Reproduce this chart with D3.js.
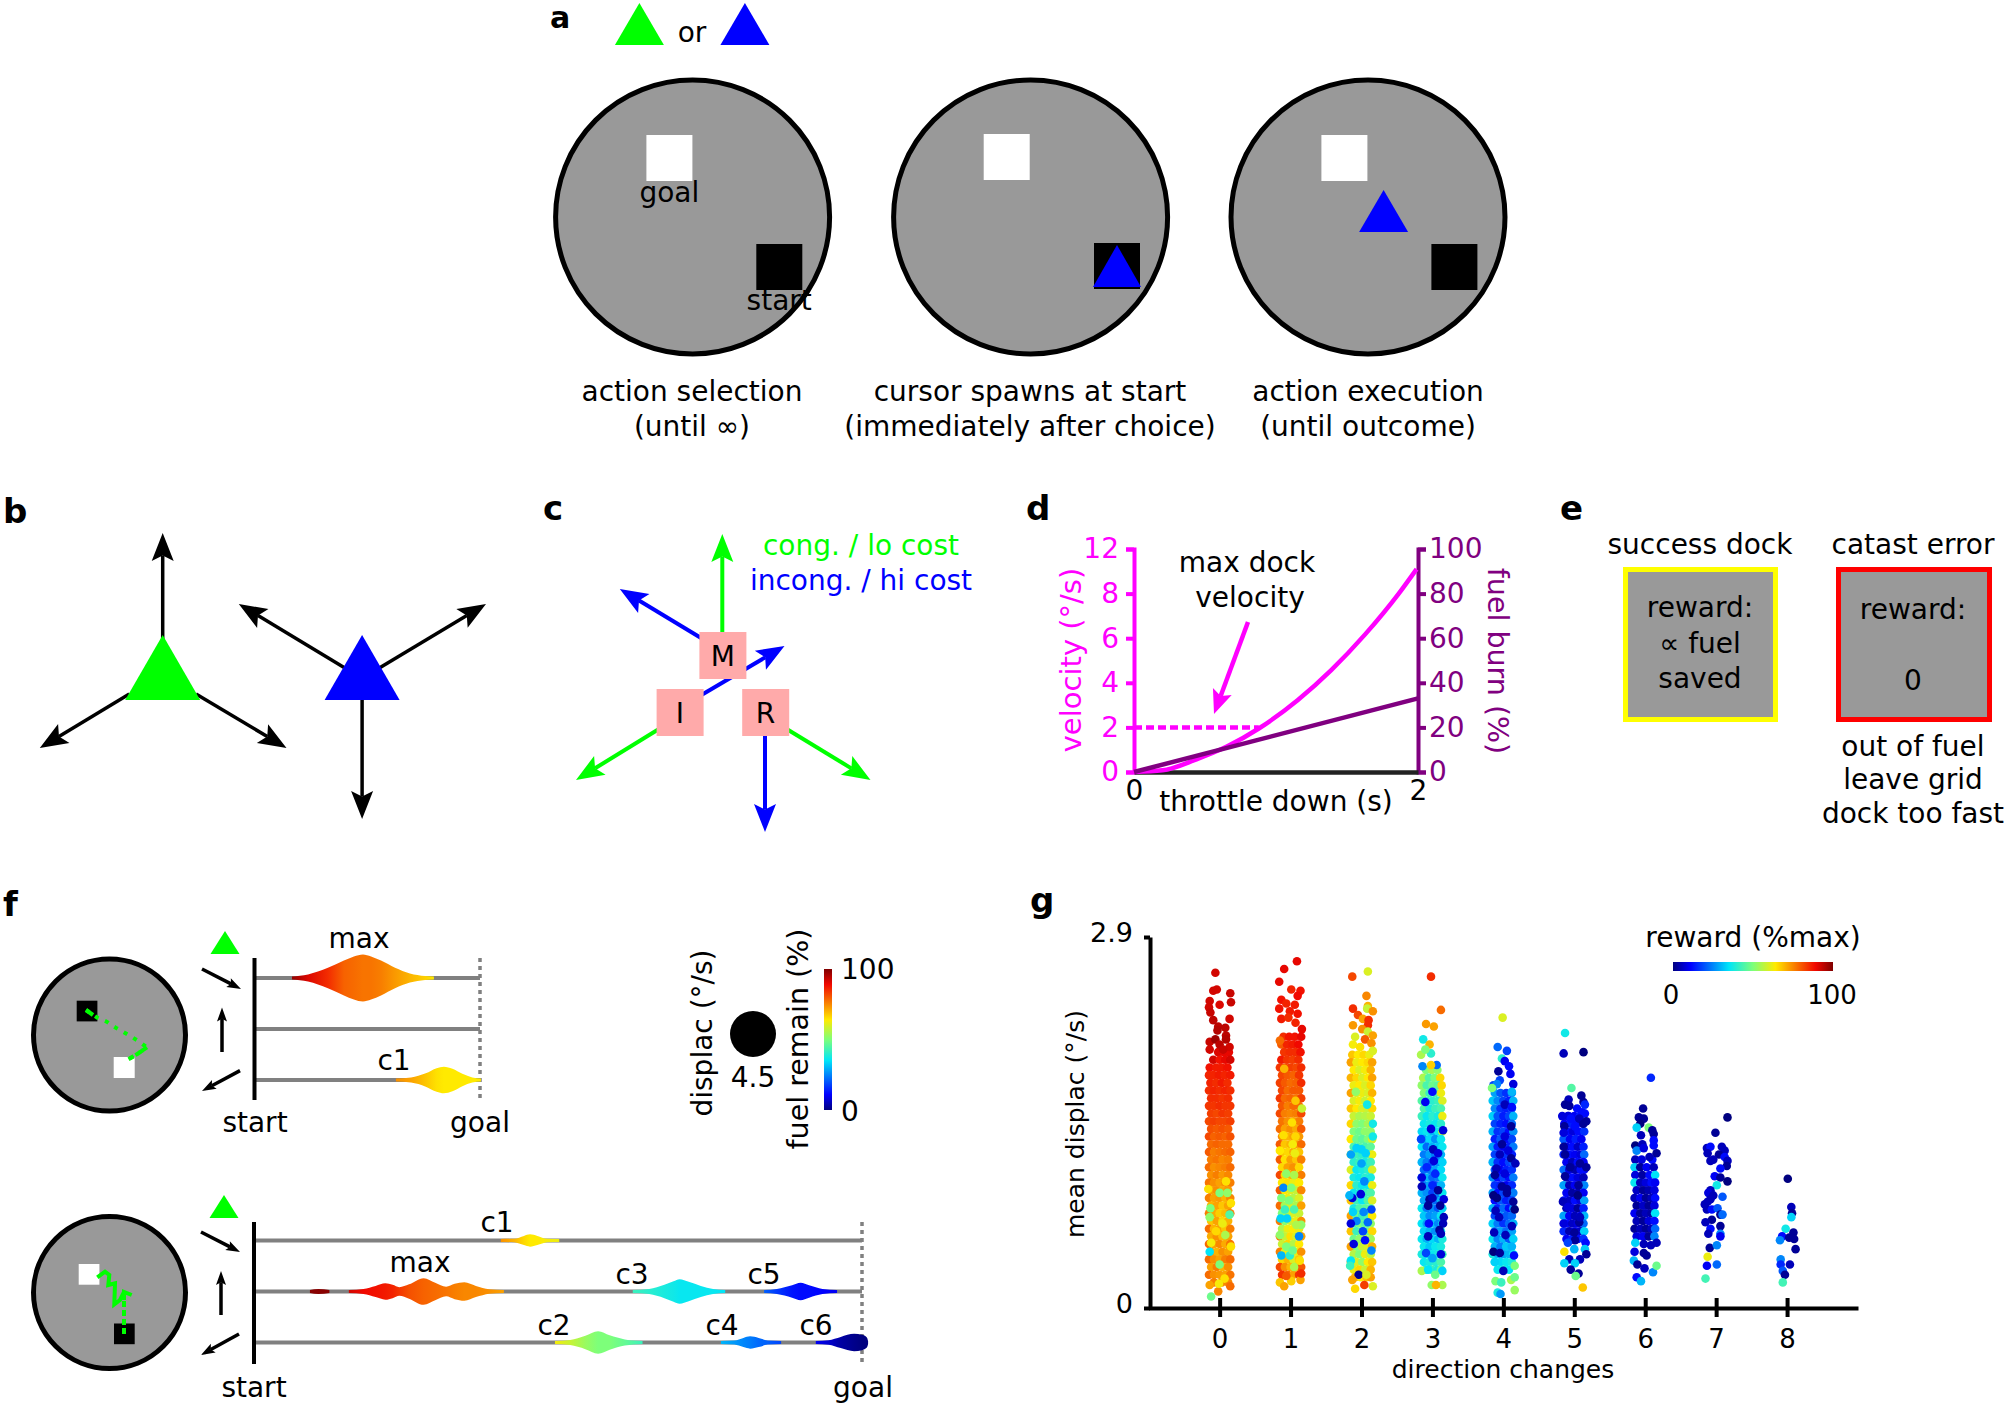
<!DOCTYPE html>
<html><head><meta charset="utf-8">
<script src="https://cdn.jsdelivr.net/npm/d3@7"></script>
<style>html,body{margin:0;padding:0;background:#fff}svg{display:block}</style>
</head><body><div id="c"></div>
<script>
// ---------- panel d values
const throttleT=[0,0.2,0.44,0.654,0.879,1.152,1.389,1.626,1.863,1.99];
const velocityCurve=[0,0.75,5.7,11.4,19.5,32.2,45.7,61.6,79.9,91];
const burnT=[0,2];
const burnLine=[0,33];
const velocityLabels=["0","2","4","6","8","12"];
const burnTicks=[0,20,40,60,80,100];
// ---------- panel f violins: [progress along track, displacement half-width, fuel remaining]
const topMax=[[16.8,.3,98],[23.9,.7,91],[32.7,2,85],[39.8,3.4,79],[44.2,4.2,78],[48.2,4.6,77],[51.8,4.2,77],[56.2,3.4,76],[62.4,2,73],[69,.9,70],[75.7,.4,67],[79.6,.2,64]];
const topC1=[[62.8,.2,74],[69.5,.5,72],[76,1.3,68],[80.8,2.3,65],[84,2.6,64],[87.8,2.2,64],[92.2,1.2,64],[96.6,.5,64],[100.4,.15,64]];
const lowC1=[[40.6,.15,74],[42.8,.35,70],[44.4,.9,66],[45.4,1.2,64],[46.6,.9,64],[48.2,.35,63],[50.2,.15,62]];
const lowTiny=[[9.2,.15,99],[10.6,.5,99],[12.4,.15,99]];
const lowMax=[[15.6,.15,92],[18,.5,89],[20,1.1,88],[21.6,1.6,87],[22.8,1.3,86],[23.9,.85,84],[25.5,1.4,81],[27.9,2.6,79],[29.8,1.7,78],[31.6,.95,77],[33,1.5,76],[34.6,1.8,75],[36.5,1.1,75],[38.7,.45,74],[41.1,.15,72]];
const lowC3=[[62.3,.15,42],[65,.5,40],[67.5,1.3,38],[69,2,37],[70,2.4,36],[71.5,1.9,36],[73.5,1.1,36],[75.5,.5,36],[77.5,.15,35]];
const lowC5=[[83.9,.15,21],[86,.5,17],[88.5,1.2,13],[89.9,1.7,12],[91.3,1.2,12],[93.5,.5,11],[95.9,.15,10]];
const lowC2=[[49.5,.15,63],[52,.5,58],[54.5,1.3,53],[56.6,2.2,50],[58.5,1.4,50],[61,.6,47],[63.9,.15,42]];
const lowC4=[[76.8,.15,30],[79,.4,27],[80.5,.9,25],[81.6,1.2,24],[83,.9,22],[84.5,.4,21],[86.7,.15,18]];
const lowC6=[[92.4,.15,10],[94.5,.45,7],[96.5,1.1,3],[98.7,1.7,1],[100,1.5,0],[100.8,1,0],[101,.05,0]];
// ---------- panel g: dense rows [displac*100, jitter%, reward, jitter%, reward, ...]
const rows0=[[200,-2,91,6,90,13,90],[194,-9,92,0,88,8,90,15,92],[188,-14,88,-5,87,3,87,11,88],[182,-15,86,-9,86,-1,87,7,86,15,87],[176,-13,86,-5,85,3,87,11,85],[170,-15,85,-8,86,0,85,8,86,15,85],[164,-12,85,-4,85,4,84,12,85],[158,-15,84,-8,84,0,85,8,84,15,84],[152,-12,83,-4,82,4,84,12,83],[146,-15,82,-8,83,0,82,8,82,15,83],[140,-12,81,-4,80,4,81,12,80],[134,-15,82,-8,79,0,80,8,79,15,81],[128,-12,78,-4,79,4,78,12,78],[122,-15,80,-8,76,0,77,8,78,15,79],[116,-12,76,-4,77,4,75,12,76],[110,-15,78,-8,74,0,75,8,76,15,78],[104,-12,74,-4,76,4,73,12,75],[98,-15,77,-8,74,0,72,8,74,15,76],[92,-12,72,-4,74,4,71,12,73],[86,-15,76,-8,72,0,73,8,70,15,75],[80,-12,70,-4,72,4,68,12,72],[74,-15,76,-8,71,0,67,8,69,15,76],[68,-12,68,-4,72,4,66,12,70],[62,-15,78,-8,70,0,72,8,68,15,76],[56,-12,71,-4,74,4,69,12,72],[50,-15,78,-8,72,0,75,8,71,15,77],[44,-12,73,-4,70,4,74,12,72],[38,-15,78,-8,74,0,72,8,76,15,78],[32,-12,72,-4,76,4,70,12,74],[26,-15,78,-8,74,0,73,8,72,15,77],[20,-8,76,3,74,12,75]];
const rows1=[[212,-10,85,-2,88,6,88,15,90],[206,-13,80,-5,86,3,87,11,89],[200,-9,84,-1,85,7,85,14,88],[194,-13,87,-5,84,3,83,11,85],[188,-15,84,-8,82,0,83,8,82,15,85],[182,-12,82,-4,80,4,79,12,84],[176,-15,83,-8,80,0,78,8,79,15,85],[170,-12,82,-4,78,4,80,12,80],[164,-15,84,-8,78,0,79,8,77,15,83],[158,-12,80,-4,76,4,78,12,78],[152,-15,82,-8,76,0,75,8,76,15,82],[146,-12,77,-4,74,4,72,12,76],[140,-15,78,-8,72,0,74,8,71,15,80],[134,-12,74,-4,70,4,72,12,73],[128,-15,80,-8,68,0,70,8,72,15,78],[122,-12,68,-4,66,4,71,12,68],[116,-15,80,-8,65,0,72,8,68,15,76],[110,-12,66,-4,72,4,74,12,66],[104,-15,82,-8,66,0,70,8,66,15,76],[98,-12,64,-4,65,4,62,12,64],[92,-15,80,-8,64,0,60,8,58,15,75],[86,-12,60,-4,62,4,56,12,60],[80,-15,78,-8,54,0,60,8,55,15,72],[74,-12,50,-4,55,4,60,12,58],[68,-15,76,-8,50,0,58,8,62,15,74],[62,-12,55,-4,62,4,64,12,62],[56,-15,76,-8,58,0,65,8,60,15,72],[50,-12,58,-4,66,4,56,12,64],[44,-15,76,-8,62,0,58,8,62,15,74],[38,-12,66,-4,70,4,60,12,68],[32,-15,82,-8,74,0,70,8,68,15,80],[26,-12,84,-4,78,4,72,12,84]];
const rows2=[[198,-13,68,-5,64,3,66,11,62],[192,-15,72,-7,62,1,64,9,66,15,72],[186,-11,64,-3,60,5,63,13,70],[180,-15,70,-7,66,1,60,9,64,15,72],[174,-11,62,-3,64,5,60,13,66],[168,-15,72,-7,60,1,62,9,60,15,70],[162,-11,60,-3,63,5,58,13,64],[156,-15,68,-7,64,1,60,9,58,15,66],[150,-11,58,-3,55,5,56,13,58],[144,-15,66,-7,52,1,50,9,54,15,62],[138,-11,50,-3,48,5,52,13,52],[132,-15,64,-7,48,1,46,9,50,15,60],[126,-11,44,-3,46,5,44,13,46],[120,-15,62,-7,42,1,40,9,44,15,62],[114,-11,40,-3,42,5,38,13,42],[108,-15,60,-7,36,1,38,9,40,15,60],[102,-11,38,-3,36,5,40,13,38],[96,-15,66,-7,40,1,36,9,36,15,62],[90,-11,36,-3,38,5,42,13,44],[84,-15,68,-7,42,1,36,9,44,15,60],[78,-11,38,-3,44,5,46,13,48],[72,-15,72,-7,48,1,42,9,44,15,64],[66,-11,44,-3,50,5,46,13,52],[60,-15,68,-7,42,1,50,9,48,15,66],[54,-11,48,-3,52,5,56,13,54],[48,-15,72,-7,50,1,58,9,60,15,70],[42,-11,56,-3,50,5,62,13,56],[36,-15,74,-7,60,1,52,9,64,15,68],[30,-11,62,-3,66,5,58,13,70],[24,-9,70,-1,64,7,68,13,72]];
const rows3=[[186,-9,50,-1,55,7,52],[180,-13,55,-5,45,3,50,11,66],[174,-15,52,-8,44,0,48,8,46,13,66],[168,-12,50,-4,42,4,44,12,62],[162,-15,45,-8,42,0,40,8,42,14,60],[156,-12,44,-4,38,4,42,12,44],[150,-15,42,-8,36,0,40,8,38,14,62],[144,-12,36,-4,38,4,36,12,40],[138,-15,34,-8,36,0,30,8,36,14,58],[132,-12,30,-4,34,4,26,12,36],[126,-15,35,-8,22,0,30,8,32,14,36],[120,-12,24,-4,28,4,24,12,30],[114,-15,30,-8,24,0,20,8,26,14,33],[108,-12,22,-4,24,4,28,12,34],[102,-15,28,-8,30,0,22,8,24,14,36],[96,-12,24,-4,28,4,20,12,30],[90,-15,30,-8,26,0,18,8,24,14,36],[84,-12,28,-4,20,4,22,12,30],[78,-15,36,-8,24,0,26,8,20,14,33],[72,-12,32,-4,26,4,28,12,36],[66,-15,35,-8,28,0,32,8,25,14,36],[60,-12,33,-4,30,4,26,12,36],[54,-15,36,-8,30,0,34,8,30,14,38],[48,-12,36,-4,32,4,36,12,38],[42,-15,38,-8,34,0,36,8,38,14,42],[36,-12,36,-4,38,4,40,12,44],[30,-9,40,-1,42,7,38,12,48]];
const rows4=[[168,-12,28,-4,20,4,16,12,25],[162,-15,32,-8,25,0,18,8,14,14,30],[156,-12,25,-4,16,4,14,12,20],[150,-15,33,-8,20,0,14,8,18,14,30],[144,-12,18,-4,14,4,12,12,22],[138,-15,30,-8,16,0,18,8,12,14,26],[132,-12,14,-4,20,4,12,12,18],[126,-15,28,-8,14,0,10,8,14,14,24],[120,-12,18,-4,12,4,16,12,14],[114,-15,30,-8,16,0,12,8,18,14,22],[108,-12,20,-4,10,4,14,12,16],[102,-15,26,-8,12,0,18,8,12,14,24],[96,-12,16,-4,14,4,10,12,15],[90,-15,28,-8,12,0,18,8,12,14,24],[84,-12,12,-4,20,4,14,12,18],[78,-15,30,-8,14,0,22,8,12,14,26],[72,-12,18,-4,26,4,20,12,22],[66,-15,33,-8,24,0,16,8,22,14,30],[60,-12,24,-4,28,4,22,12,28],[54,-15,36,-8,25,0,30,8,20,14,33],[48,-12,30,-4,24,4,32,12,30],[42,-15,38,-8,30,0,28,8,30,14,36],[36,-12,36,-4,34,4,36,12,38],[30,-8,36,0,38,8,35]];
const rows5=[[150,-8,12,0,10,8,14],[144,-14,10,-5,14,3,12,12,8],[138,-10,12,-2,8,6,12,14,16],[132,-15,20,-6,10,2,14,10,10],[126,-11,8,-3,12,5,6,13,14],[120,-15,14,-7,12,1,10,9,8,14,22],[114,-11,10,-3,5,5,12,13,10],[108,-15,22,-7,8,1,4,9,12,14,12],[102,-11,6,-3,12,5,8,13,5],[96,-15,28,-7,5,1,10,9,6,14,25],[90,-11,10,-3,3,5,4,13,10],[84,-15,12,-7,6,1,12,9,8,14,28],[78,-11,4,-3,8,5,2,13,14],[72,-15,28,-7,10,1,5,9,10,14,30],[66,-11,12,-3,6,5,8,13,22],[60,-15,15,-7,4,1,10,9,6,14,33],[54,-11,10,-3,14,5,12,13,16]];
const rows6=[[116,-14,5,-5,8,10,12],[110,-15,33,-7,2,2,10,12,5],[104,-14,8,-4,3,6,12,14,35],[98,-15,36,-7,5,1,8,9,12,14,10],[92,-12,6,-3,2,5,4,13,8],[86,-15,5,-7,10,1,2,9,5,14,12],[80,-12,2,-3,6,5,2,13,8],[74,-15,10,-7,2,1,5,9,3,14,35],[68,-12,5,-3,2,5,8,13,12],[62,-15,2,-7,5,1,2,9,5,14,22],[56,-12,8,-3,10,5,2,13,25]];
// ---------- panel g: individually readable dots [jitter%, displac*100, reward]
const dots0=[[-6,262,92],[-9,248,92],[-4,249,92],[15,246,93],[16,239,93],[-14,240,92],[0,237,91],[-15,235,92],[-13,231,93],[-9,225,94],[14,226,92],[-2,220,94],[8,219,94],[-3,217,95],[9,213,94],[-14,208,93],[-6,210,97],[9,210,95],[0,206,94],[-14,202,92],[14,204,92],[5,202,93],[9,99,65],[-16,93,65],[0,90,50],[11,90,52],[-13,78,50],[14,73,45],[-14,71,52],[16,82,65],[8,57,55],[0,34,50],[-12,51,63],[16,48,65],[4,66,62],[-5,60,66],[-14,44,35],[-12,9,48],[-2,13,75],[-14,18,72],[15,17,78],[7,23,65],[-1,19,63]];
const dots1=[[9,271,90],[-9,265,90],[-16,255,90],[1,249,86],[14,248,88],[10,244,89],[-13,241,88],[-6,238,86],[6,237,87],[-16,234,88],[-1,232,87],[10,230,88],[-13,226,87],[-3,227,85],[7,223,86],[16,218,90],[-15,209,78],[-9,187,70],[7,162,68],[16,156,58],[2,145,65],[-10,135,65],[7,134,66],[3,128,63],[6,121,62],[-15,123,64],[-6,105,52],[5,104,55],[-10,94,25],[1,94,50],[-13,86,50],[-2,84,50],[-8,77,42],[5,77,44],[-14,70,33],[-5,70,33],[15,65,52],[8,65,55],[12,56,25],[-15,57,52],[-6,48,50],[-13,41,30],[-1,41,40],[3,45,48],[13,37,65],[5,32,55],[-15,20,68],[-9,17,72],[1,21,67],[14,22,72],[15,27,85],[-6,25,80]];
const dots2=[[-13,259,82],[9,263,60],[7,244,75],[9,236,70],[8,234,58],[-12,234,85],[16,232,74],[-5,229,82],[2,226,72],[10,225,85],[-12,221,73],[9,221,85],[1,218,74],[9,216,58],[16,213,72],[-9,212,60],[5,210,80],[14,207,74],[-12,206,63],[-2,204,65],[16,201,60],[8,159,37],[-8,169,52],[16,144,37],[16,134,37],[-15,120,28],[0,124,33],[-7,125,33],[6,121,33],[0,113,28],[4,99,25],[-13,86,8],[-1,89,8],[-17,88,30],[14,77,18],[3,75,25],[-12,75,33],[-7,68,25],[-15,66,8],[9,67,22],[2,60,18],[5,53,12],[-11,50,8],[14,45,25],[-15,37,35],[-16,33,42],[-4,26,2],[-13,22,72],[-9,15,66],[16,17,60],[4,18,83],[7,26,60]];
const dots3=[[-2,259,85],[12,233,78],[-9,222,73],[2,220,72],[-13,210,37],[-4,206,70],[-2,199,40],[-16,198,55],[-10,202,50],[6,190,22],[-14,189,25],[-2,190,67],[0,169,12],[-10,161,10],[-2,140,8],[15,139,8],[-16,132,18],[1,124,5],[8,121,8],[2,115,8],[-8,110,15],[4,105,15],[-15,102,8],[-15,95,5],[0,96,15],[8,92,2],[-4,85,2],[0,86,5],[16,85,8],[-6,80,2],[11,80,2],[16,71,5],[-5,66,12],[15,66,5],[10,61,2],[12,58,5],[-6,56,5],[-9,43,18],[12,42,8],[0,39,28],[-15,29,55],[-6,30,35],[14,29,33],[4,26,48],[-1,18,52],[14,18,55],[5,18,70]];
const dots4=[[-1,227,60],[-8,204,22],[5,201,18],[-2,195,40],[2,193,10],[8,189,12],[-7,185,2],[10,183,10],[-5,178,18],[-14,174,18],[-9,175,25],[14,175,8],[-16,172,50],[12,169,30],[2,159,5],[12,157,12],[11,142,2],[2,134,8],[-2,128,2],[-5,120,5],[7,123,8],[11,117,2],[17,113,5],[-10,109,5],[-12,104,2],[2,105,8],[-2,95,2],[5,93,2],[-14,88,0],[-9,86,0],[14,83,2],[16,77,0],[5,90,2],[-11,76,5],[-6,71,5],[12,64,5],[-13,59,5],[3,57,5],[-14,44,0],[-5,43,2],[15,41,12],[0,29,5],[-12,36,33],[-11,21,50],[-3,20,42],[11,22,55],[16,33,50],[16,24,48],[16,14,53],[-8,12,38],[-4,11,27]];
const dots5=[[-13,215,37],[-15,199,5],[13,200,0],[-4,172,45],[10,166,2],[-8,163,5],[13,161,2],[-13,159,2],[15,159,15],[4,156,12],[-7,158,2],[11,153,12],[-17,150,8],[-9,150,8],[15,152,12],[7,148,5],[17,146,2],[-5,148,12],[13,144,2],[-14,142,2],[1,142,12],[-15,137,8],[-15,126,2],[-13,120,2],[8,113,2],[17,110,2],[-6,110,2],[-13,103,2],[6,96,2],[5,88,0],[-16,83,5],[-9,79,8],[7,67,2],[-15,66,8],[8,71,5],[1,53,2],[0,59,2],[-9,51,18],[16,51,12],[0,46,30],[15,46,32],[-14,44,65],[17,42,2],[-7,38,5],[8,38,5],[-14,35,33],[1,35,33],[-5,30,2],[6,27,2],[2,25,48],[12,16,68]];
const dots6=[[8,180,15],[-3,156,2],[-9,149,2],[-2,148,2],[-7,144,0],[-12,141,33],[5,141,50],[10,139,2],[12,136,2],[-6,135,5],[12,131,12],[-14,127,0],[-4,128,5],[12,127,12],[-12,123,25],[-2,125,8],[16,121,2],[6,118,5],[-14,51,33],[-2,50,5],[8,49,5],[16,51,5],[-15,44,8],[-2,43,2],[2,41,2],[-16,37,30],[-11,34,2],[-1,31,5],[11,28,25],[16,33,48],[-12,24,12],[-6,21,30]];
const dots7=[[16,149,0],[-1,137,2],[-13,125,5],[-8,126,12],[8,126,5],[-12,121,5],[12,123,5],[4,120,2],[12,118,12],[-4,116,5],[-8,115,5],[16,115,5],[15,111,2],[6,109,12],[-2,103,10],[6,102,2],[16,99,0],[1,96,37],[-8,92,5],[-11,90,8],[9,87,20],[-4,88,5],[-8,85,5],[-12,83,5],[-16,81,5],[-13,77,5],[-6,77,12],[2,78,20],[6,73,2],[9,73,22],[-6,69,2],[-15,67,5],[6,64,2],[-8,62,12],[-11,58,5],[6,58,25],[6,56,10],[-9,47,2],[1,49,25],[-12,40,62],[-13,33,10],[1,34,22],[-15,23,43]];
const dots8=[[1,101,0],[6,79,5],[7,74,2],[6,71,33],[-2,62,37],[9,59,2],[-7,56,12],[-10,53,25],[3,55,2],[10,54,2],[12,46,2],[-9,38,25],[-9,34,15],[4,34,5],[-6,29,20],[-3,26,2],[-6,20,43]];
const denseRows=[rows0,rows1,rows2,rows3,rows4,rows5,rows6,[],[]];
const loneDots=[dots0,dots1,dots2,dots3,dots4,dots5,dots6,dots7,dots8];
const changeTicks=[0,1,2,3,4,5,6,7,8];
const displacTicks=[0,2.9];
// jet colormap
const jetStops=[[0,"#00007f"],[11,"#0000ff"],[35,"#00e5f8"],[50,"#7dff7a"],[64,"#ffea00"],[89,"#f10800"],[100,"#7f0000"]];
const jet=d3.scaleLinear().domain(jetStops.map(d=>d[0])).range(jetStops.map(d=>d[1])).interpolate(d3.interpolateRgb).clamp(true);

const FONT="'DejaVu Sans'";
const svg=d3.select("#c").append("svg").attr("width",2007).attr("height",1404).attr("viewBox","0 0 2007 1404").style("font-family",FONT);
const defs=svg.append("defs");
const GREEN="#00ff00",BLUE="#0000ff",GRAY="#999999",MAG="#ff00ff",PUR="#800080",PINK="#ffaaaa";

function T(x,y,s,o={}){const t=svg.append("text").attr("x",x).attr("y",y).text(s)
  .attr("font-size",o.size||28).attr("text-anchor",o.anchor||"middle").attr("fill",o.fill||"#000").attr("font-weight",o.weight||"normal");
  if(o.rot!==undefined)t.attr("transform",`rotate(${o.rot} ${x} ${y})`);return t;}
function tri(cx,top,base,hw,c){svg.append("polygon").attr("points",`${cx},${top} ${cx-hw},${base} ${cx+hw},${base}`).attr("fill",c);}
function sq(x,y,w,h,c){svg.append("rect").attr("x",x).attr("y",y).attr("width",w).attr("height",h).attr("fill",c);}
function arrow(a,c,lw,len,wid){const [x1,y1,x2,y2]=a;const L=Math.hypot(x2-x1,y2-y1),u=(x2-x1)/L,v=(y2-y1)/L;
  const nx=-v,ny=u,bx=x2-u*len,by=y2-v*len,mx=x2-u*len*.8,my=y2-v*len*.8;
  svg.append("line").attr("x1",x1).attr("y1",y1).attr("x2",mx).attr("y2",my).attr("stroke",c).attr("stroke-width",lw);
  svg.append("polygon").attr("points",`${x2},${y2} ${bx+nx*wid/2},${by+ny*wid/2} ${mx},${my} ${bx-nx*wid/2},${by-ny*wid/2}`).attr("fill",c);}
function disc(cx,cy,r){svg.append("circle").attr("cx",cx).attr("cy",cy).attr("r",r).attr("fill",GRAY).attr("stroke","#000").attr("stroke-width",5);}
// panel letters
[["a",550,28,30],["b",3,523,34],["c",543,520,34],["d",1026,520,34],["e",1560,520,34],["f",3,916,34],["g",1030,912,34]].forEach(d=>T(d[1],d[2],d[0],{size:d[3],weight:"bold",anchor:"start"}));

// ---- a
tri(639.4,3,45,24.5,GREEN);tri(744.9,3,45,24.5,BLUE);T(692,42,"or");
[692.6,1030.6,1368].forEach(cx=>disc(cx,217,137));
sq(646.4,135,46,46,"#fff");sq(756.3,244,46,46,"#000");
T(669.3,202,"goal");T(779.2,310,"start");
sq(983.7,134,46,46,"#fff");sq(1094,243,46,46,"#000");tri(1117,245,287,24,BLUE);
sq(1321.4,135,46,46,"#fff");sq(1431.4,244,46,46,"#000");tri(1383.6,190,232,24.5,BLUE);
T(692,401,"action selection");T(692,436,"(until ∞)");
T(1030,401,"cursor spawns at start");T(1030,436,"(immediately after choice)");
T(1368,401,"action execution");T(1368,436,"(until outcome)");

// ---- b
const arrowsB=[[162.7,640,162.7,533],[129.3,694,39.8,748],[196,694,286.5,748],[362.1,695,362.1,819],[348.2,670,238.8,604],[376,670,486,604]];
arrowsB.forEach(a=>arrow(a,"#000",3.5,28,22));
tri(162.7,635,700,37.5,GREEN);tri(362.1,635,700,37.5,BLUE);

// ---- c
const arrowsCGreen=[[722.3,640,722.3,534],[660.6,728,576,780],[785,728,870.5,780]];
const arrowsCBlue=[[704.4,640,619.8,589],[701.4,695,784.5,646],[765,730,765,832]];
arrowsCGreen.forEach(a=>arrow(a,GREEN,4,28,22));
arrowsCBlue.forEach(a=>arrow(a,BLUE,4,28,22));
sq(699.4,632,47,47,PINK);sq(656.6,689,47,47,PINK);sq(742.2,689,47,47,PINK);
T(722.9,666,"M");T(680,723,"I");T(765.6,723,"R");
T(861,555,"cong. / lo cost",{fill:GREEN});T(861,590,"incong. / hi cost",{fill:BLUE});

// ---- d
const dX=d3.scaleLinear().domain([0,2]).range([1134,1418]);
const dY=d3.scaleLinear().domain([0,100]).range([772,549]);
const dVel=d3.scalePoint().domain(velocityLabels).range([772,549]);
function styleAxis(g,c,w,size){g.attr("font-family",FONT).attr("font-size",size);
  g.select(".domain").attr("stroke",c).attr("stroke-width",w);g.selectAll(".tick line").attr("stroke",c).attr("stroke-width",w);
  g.selectAll(".tick text").attr("fill",c);}
svg.append("g").attr("transform","translate(1134,0)").call(d3.axisLeft(dVel).tickSize(8).tickPadding(7)).call(g=>styleAxis(g,MAG,4,28));
svg.append("g").attr("transform","translate(1418,0)").call(d3.axisRight(dY).tickValues(burnTicks).tickSize(8).tickPadding(3)).call(g=>styleAxis(g,PUR,4,28));
const dAx=svg.append("g").attr("transform","translate(0,772)").call(d3.axisBottom(dX).tickValues(burnT).tickFormat(d3.format("d")).tickSize(0).tickPadding(8)).call(g=>styleAxis(g,"#222",4.5,28));
dAx.selectAll(".tick text").attr("fill","#000");
const dLine=d3.line().x(d=>dX(d[0])).y(d=>dY(d[1]));
svg.append("path").datum(d3.zip(throttleT,velocityCurve)).attr("d",dLine.curve(d3.curveMonotoneX)).attr("fill","none").attr("stroke",MAG).attr("stroke-width",4.5);
svg.append("path").datum(d3.zip(burnT,burnLine)).attr("d",dLine.curve(d3.curveLinear)).attr("fill","none").attr("stroke",PUR).attr("stroke-width",4.5);
svg.append("line").attr("x1",dX(0)).attr("x2",dX(0.879)).attr("y1",dVel("2")).attr("y2",dVel("2")).attr("stroke",MAG).attr("stroke-width",4.5).attr("stroke-dasharray","8 4");
arrow([1248,622,1214,714],MAG,4.5,24,20);
T(1247,572,"max dock");T(1250,607,"velocity");
T(1276,811,"throttle down (s)");
T(1081,660,"velocity (°/s)",{fill:MAG,rot:-90,size:29});
T(1488,661,"fuel burn (%)",{fill:PUR,rot:90,size:28.5});

// ---- e
function box(x,w,c){svg.append("rect").attr("x",x).attr("y",569.5).attr("width",w).attr("height",150).attr("fill",GRAY).attr("stroke",c).attr("stroke-width",5);}
box(1625.5,150,"#ffff00");box(1838.5,151,"#ff0000");
T(1700,554,"success dock");T(1913,554,"catast error");
T(1700,617,"reward:");T(1700,653,"∝ fuel");T(1700,688,"saved");
T(1913,619,"reward:");T(1913,690,"0");
T(1913,756,"out of fuel");T(1913,789,"leave grid");T(1913,823,"dock too fast");

// ---- f
const wS=d3.scaleLinear().domain([0,4.5]).range([0,23]);
const xTop=d3.scaleLinear().domain([0,100]).range([254,480]);
const xLow=d3.scaleLinear().domain([0,100]).range([254,862]);
function track(x1,x2,ys,top,bot){ys.forEach(y=>svg.append("line").attr("x1",x1).attr("x2",x2).attr("y1",y).attr("y2",y).attr("stroke","#808080").attr("stroke-width",4));
  svg.append("line").attr("x1",x1).attr("x2",x1).attr("y1",top).attr("y2",bot).attr("stroke","#000").attr("stroke-width",4);
  svg.append("line").attr("x1",x2).attr("x2",x2).attr("y1",top).attr("y2",bot).attr("stroke","#808080").attr("stroke-width",3.5).attr("stroke-dasharray","4 4");}
track(254.5,480,[978,1029,1080],958,1100);track(254,862,[1240.5,1291.5,1342.5],1222,1364);
let vid=0;
function violin(pts,x,y){const id="v"+(vid++),x0=x(pts[0][0]),x1=x(pts[pts.length-1][0]);
  const lg=defs.append("linearGradient").attr("id",id).attr("gradientUnits","userSpaceOnUse").attr("x1",x0).attr("x2",x1).attr("y1",0).attr("y2",0);
  pts.forEach(p=>lg.append("stop").attr("offset",(x(p[0])-x0)/(x1-x0)).attr("stop-color",jet(p[2])));
  svg.append("path").datum(pts).attr("fill",`url(#${id})`).attr("d",d3.area().x(p=>x(p[0])).y0(p=>y-Math.max(1.5,wS(p[1]))).y1(p=>y+Math.max(1.5,wS(p[1]))).curve(d3.curveMonotoneX));}
violin(topMax,xTop,978);violin(topC1,xTop,1080);
violin(lowC1,xLow,1240.5);violin(lowTiny,xLow,1291.5);violin(lowMax,xLow,1291.5);violin(lowC3,xLow,1291.5);violin(lowC5,xLow,1291.5);
violin(lowC2,xLow,1342.5);violin(lowC4,xLow,1342.5);violin(lowC6,xLow,1342.5);
disc(109.5,1035,76);disc(109.5,1292.5,76);
sq(76.7,1000.7,20.7,20.7,"#000");sq(113.7,1057,21,21,"#fff");
sq(78.7,1264,20.7,20.7,"#fff");sq(114,1323.5,20.7,20.7,"#000");
const pathTop=[[86,1010],[97.3,1017.7],[106.7,1021.7],[116.7,1028.3],[127.3,1034.3],[136.7,1040],[147,1047.3],[137.3,1054],[127.3,1060]];
const pathTopStart=[[86,1010],[93,1015]];
const pathTopEnd=[[147,1047.3],[137.3,1054],[127.3,1060]];
const pathLowRise=[[124,1334],[124,1300]];
const pathLowZig=[[124,1300],[124,1292],[131.7,1295],[124,1292],[120,1300],[114.3,1304.3],[115,1283.3],[108.3,1285],[109.3,1275],[105,1271.7],[97.3,1277.3]];
const drawPath=(p,dash)=>svg.append("path").attr("d",d3.line()(p)).attr("fill","none").attr("stroke",GREEN).attr("stroke-width",4).attr("stroke-dasharray",dash);
drawPath(pathTop,"4 7");drawPath(pathTopStart,null);drawPath(pathTopEnd,"6 2");
drawPath(pathLowRise,"6 3");drawPath(pathLowZig,null);
tri(225,931,954,14.5,GREEN);tri(224,1195,1218,14.5,GREEN);
const arrowsF=[[202,969,241,989],[222,1052,222,1007.5],[240,1070.6,202,1091],[201,1232,240,1252],[221,1315,221,1271],[239,1334,201,1355]];
arrowsF.forEach(a=>arrow(a,"#000",3.5,14,10));
T(359,948,"max");T(394,1070,"c1");T(255,1132,"start");T(480,1132,"goal");
T(497,1232,"c1");T(420,1271.5,"max");T(632,1284,"c3");T(764,1284,"c5");T(554,1335,"c2");T(722,1335,"c4");T(816,1335,"c6");
T(254,1397,"start");T(863,1397,"goal");
// legend
svg.append("circle").attr("cx",753).attr("cy",1034).attr("r",wS(4.5)).attr("fill","#000");
T(753,1087,"4.5");
T(712,1033,"displac (°/s)",{rot:-90});
T(808,1039,"fuel remain (%)",{rot:-90,size:28.5});
function jetGrad(id,x1,y1,x2,y2){const lg=defs.append("linearGradient").attr("id",id).attr("x1",x1).attr("y1",y1).attr("x2",x2).attr("y2",y2);
  jetStops.forEach(s=>lg.append("stop").attr("offset",s[0]/100).attr("stop-color",s[1]));}
jetGrad("jv",0,1,0,0);jetGrad("jh",0,0,1,0);
svg.append("rect").attr("x",824).attr("y",969).attr("width",8).attr("height",141).attr("fill","url(#jv)");
T(841,979,"100",{anchor:"start"});T(841,1121,"0",{anchor:"start"});

// ---- g
const xG=d3.scaleLinear().domain([-1,9]).range([1148.7,1858]);
const yG=d3.scaleLinear().domain([0,2.9]).range([1308,937]);
const scatter=[];
changeTicks.forEach(c=>{denseRows[c].forEach(r=>{for(let i=1;i<r.length;i+=2)scatter.push({c,j:r[i],d:r[0],r:r[i+1]});});
  loneDots[c].forEach(p=>scatter.push({c,j:p[0],d:p[1],r:p[2]}));});
svg.append("g").selectAll("circle").data(scatter).join("circle")
  .attr("cx",p=>xG(p.c+p.j/100)).attr("cy",p=>yG(p.d/100)).attr("r",4.3).attr("fill",p=>jet(p.r));
const gx=svg.append("g").attr("transform","translate(0,1308)").call(d3.axisBottom(xG).tickValues(changeTicks).tickSize(9).tickPadding(13).tickSizeOuter(0)).call(g=>styleAxis(g,"#000",4,26));
gx.selectAll(".tick line").attr("y1",-10);
const gy=svg.append("g").attr("transform","translate(1150,0)").call(d3.axisLeft(yG).tickValues(displacTicks).tickFormat(d=>d===0?"0":String(d)).tickSize(6).tickPadding(11).tickSizeOuter(0)).call(g=>styleAxis(g,"#000",4,27));
gy.selectAll(".tick text").attr("dy","0.15em");
T(1503,1378,"direction changes",{size:25});
T(1084,1124,"mean displac (°/s)",{rot:-90,size:25});
T(1753,947,"reward (%max)");
svg.append("rect").attr("x",1673).attr("y",962).attr("width",160).attr("height",9).attr("fill","url(#jh)");
T(1671,1004,"0",{size:26});T(1832,1004,"100",{size:26});
</script></body></html>
